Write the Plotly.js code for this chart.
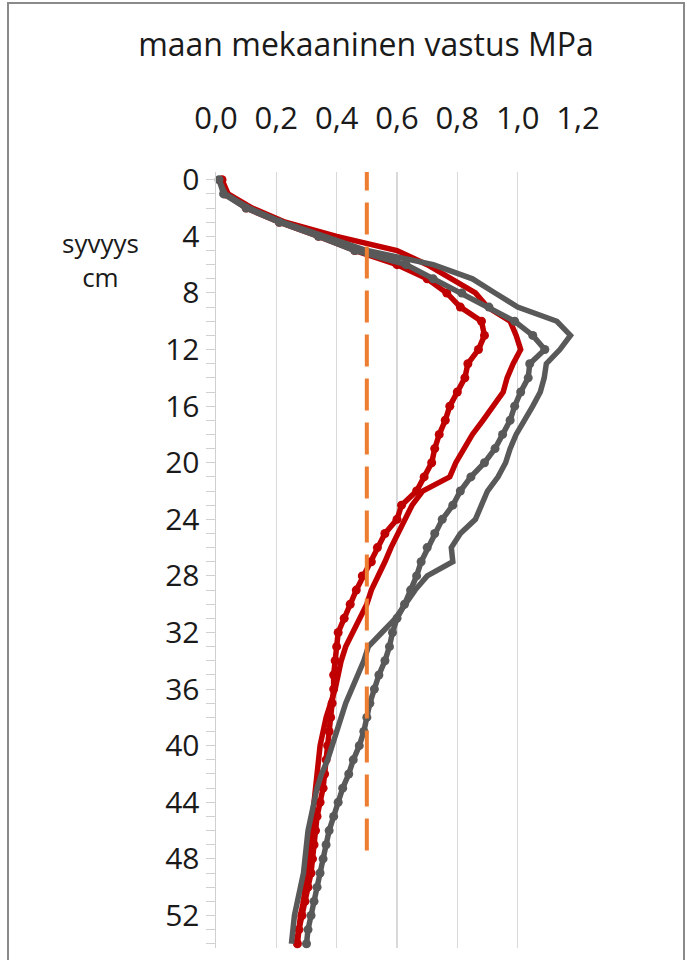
<!DOCTYPE html>
<html><head><meta charset="utf-8">
<script src="https://cdn.plot.ly/plotly-3.0.1.min.js"></script>
<style>
html,body{margin:0;padding:0;background:#fff;overflow:hidden}
#chart{width:687px;height:960px}
#frame{position:absolute;left:7px;top:2px;width:678px;height:1000px;border:2px solid #8a8a8a;pointer-events:none;box-sizing:border-box}
</style></head><body>
<div id="chart"></div><div id="frame"></div>
<script>
const depthCm = [0,1,2,3,4,5,6,7,8,9,10,11,12,13,14,15,16,17,18,19,20,21,22,23,24,25,26,27,28,29,30,31,32,33,34,35,36,37,38,39,40,41,42,43,44,45,46,47,48,49,50,51,52,53,54];

const redMarked = [0.02,0.03,0.10,0.21,0.34,0.46,0.60,0.70,0.765,0.81,0.88,0.89,0.87,0.835,0.825,0.80,0.775,0.76,0.74,0.725,0.715,0.69,0.665,0.615,0.60,0.56,0.535,0.515,0.485,0.465,0.445,0.425,0.405,0.40,0.395,0.39,0.39,0.385,0.38,0.375,0.37,0.365,0.36,0.355,0.345,0.335,0.33,0.325,0.32,0.315,0.305,0.295,0.285,0.275,0.27];

const redPlain = [0.02,0.04,0.12,0.23,0.40,0.60,0.70,0.78,0.86,0.90,0.975,0.995,1.01,0.985,0.965,0.952,0.92,0.885,0.85,0.82,0.795,0.775,0.685,0.65,0.625,0.60,0.58,0.56,0.535,0.515,0.50,0.475,0.45,0.43,0.415,0.405,0.395,0.38,0.365,0.355,0.345,0.34,0.335,0.33,0.325,0.32,0.315,0.31,0.305,0.30,0.295,0.29,0.28,0.275,0.265];

const grayMarked = [0.01,0.025,0.10,0.21,0.34,0.46,0.63,0.72,0.815,0.905,0.99,1.05,1.09,1.04,1.035,1.01,0.99,0.975,0.95,0.925,0.89,0.845,0.81,0.785,0.75,0.725,0.70,0.68,0.665,0.645,0.625,0.60,0.585,0.575,0.56,0.54,0.525,0.51,0.50,0.49,0.475,0.455,0.44,0.42,0.405,0.39,0.375,0.365,0.355,0.345,0.335,0.325,0.315,0.305,0.30];

const grayPlain = [0.01,0.03,0.11,0.22,0.36,0.50,0.72,0.85,0.925,1.0,1.13,1.175,1.14,1.095,1.088,1.075,1.05,1.02,0.995,0.975,0.96,0.935,0.90,0.88,0.86,0.81,0.78,0.785,0.70,0.66,0.625,0.595,0.55,0.505,0.49,0.47,0.45,0.43,0.415,0.40,0.385,0.37,0.35,0.335,0.325,0.315,0.305,0.30,0.295,0.29,0.28,0.27,0.26,0.255,0.25];

const limitValue = [0.5, 0.5];
const limitDepth = [47.4, -1.0];

const xTickValues = [0, 0.2, 0.4, 0.6, 0.8, 1.0, 1.2];
const yTickValues = [0, 4, 8, 12, 16, 20, 24, 28, 32, 36, 40, 44, 48, 52];

const RED = '#C00000', GRAY = '#595959', ORANGE = '#ED7D31';
const FONT = 'Open Sans, sans-serif';

const traces = [
  {x: redPlain, y: depthCm, mode: 'lines', line: {color: RED, width: 5.5}, cliponaxis: false},
  {x: redMarked, y: depthCm, mode: 'lines+markers', line: {color: RED, width: 5.5}, marker: {color: RED, size: 9}, cliponaxis: false},
  {x: grayPlain, y: depthCm, mode: 'lines', line: {color: GRAY, width: 5.5}, cliponaxis: false},
  {x: grayMarked, y: depthCm, mode: 'lines+markers', line: {color: GRAY, width: 5.5}, marker: {color: GRAY, size: 9}, cliponaxis: false},
  {x: limitValue, y: limitDepth, mode: 'lines', line: {color: ORANGE, width: 4, dash: '32px,12px'}}
];

const layout = {
  width: 687, height: 960,
  margin: {l: 216, r: 109, t: 172, b: 12},
  paper_bgcolor: '#fff', plot_bgcolor: '#fff',
  showlegend: false,
  separators: ', ',
  font: {family: FONT, color: '#1a1a1a', size: 30},
  title: {text: 'maan mekaaninen vastus MPa', x: 366/687, xref: 'container', xanchor: 'center',
          y: 1 - 45/960, yref: 'container', yanchor: 'middle',
          font: {family: FONT, size: 32, color: '#1a1a1a'}},
  xaxis: {
    side: 'top', range: [0, 1.2], tickvals: xTickValues, tickformat: '.1f',
    showgrid: true, gridcolor: '#d9d9d9', gridwidth: 1.5, zeroline: false,
    showline: false, ticks: 'outside', ticklen: 30, tickcolor: 'rgba(0,0,0,0)',
    tickfont: {family: FONT, size: 31, color: '#1a1a1a'}
  },
  yaxis: {
    autorange: false, range: [54.3, -0.55], tickvals: yTickValues,
    showgrid: false, zeroline: false, showline: true, linecolor: '#d0d0d0', linewidth: 1.5,
    ticks: 'outside', ticklen: 9, tickcolor: '#d0d0d0', tickwidth: 1,
    minor: {dtick: 1, tick0: 0, ticks: 'outside', ticklen: 9, tickcolor: '#d0d0d0', tickwidth: 1, showgrid: false},
    tickfont: {family: FONT, size: 30, color: '#1a1a1a'}
  },
  annotations: [{
    text: 'syvyys<br>cm', xref: 'paper', yref: 'paper', x: (100-216)/362, y: 1 - (260-172)/776,
    xanchor: 'center', yanchor: 'middle', showarrow: false,
    font: {family: FONT, size: 26, color: '#1a1a1a'}
  }]
};

Plotly.newPlot('chart', traces, layout, {displayModeBar: false, staticPlot: true});
</script>
</body></html>
